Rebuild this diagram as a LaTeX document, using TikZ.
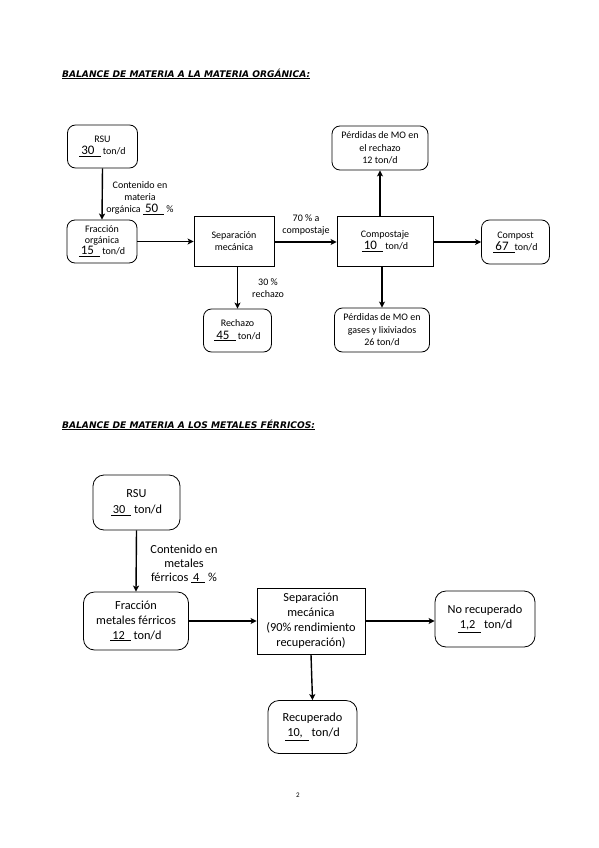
\documentclass[tikz,border=0pt]{standalone}
\usepackage{fontspec}
\setmainfont{Carlito}
\newfontfamily\headfont{DejaVu Sans}
\usetikzlibrary{arrows.meta,calc}
\newcommand{\unum}[1]{\underline{\hspace{2pt}#1\hspace{6pt}}}
\newcommand{\bnum}[1]{{\fontsize{13}{12}\selectfont\unum{#1}}}
\begin{document}
\begin{tikzpicture}[x=1pt,y=-1pt,
  tfont/.style={font=\fontsize{10}{12.3}\selectfont},
  bfont/.style={font=\fontsize{12.3}{15}\selectfont},
  rbox/.style={draw,line width=0.8pt,rounded corners=8pt,align=center,inner sep=0pt,tfont},
  sbox/.style={draw,line width=0.8pt,align=center,inner sep=0pt,tfont},
  rboxb/.style={draw,line width=0.8pt,rounded corners=11pt,align=center,inner sep=0pt,bfont},
  sboxb/.style={draw,line width=0.8pt,align=center,inner sep=0pt,bfont},
  flow/.style={line width=1.4pt,-{Stealth[length=6pt,width=6pt,inset=1.5pt]}},
  lab/.style={align=center,inner sep=0pt,tfont},
  labb/.style={align=center,inner sep=0pt,font=\fontsize{12.3}{14}\selectfont},
  head/.style={anchor=west,inner sep=0pt,font=\headfont\bfseries\itshape\fontsize{9.1}{10}\selectfont}
]
\fill[white] (0,0) rectangle (599,848);
\useasboundingbox (0,0) rectangle (599,848);

% headings
\node[head] (h1) at (62,74) {\underline{BALANCE DE MATERIA A LA MATERIA ORGÁNICA:}};
\node[head] (h2) at (62,425) {\underline{BALANCE DE MATERIA A LOS METALES FÉRRICOS:}};

% top diagram
\node[rbox,minimum width=70pt,minimum height=43pt] (rsu1) at (102.5,146.5)
  {RSU\\\bnum{30} ton/d};
\node[rbox,minimum width=70pt,minimum height=43pt,font=\fontsize{10}{11}\selectfont] (fr1) at (102,241.5)
  {Fracción\\orgánica\\\bnum{15} ton/d};
\node[sbox,minimum width=80pt,minimum height=50pt] (sep1) at (234,241)
  {Separación\\mecánica};
\node[sbox,minimum width=96pt,minimum height=50pt] (comp1) at (385,241)
  {Compostaje\\\bnum{10} ton/d};
\node[rbox,minimum width=96pt,minimum height=44pt] (per1) at (380,148)
  {Pérdidas de MO en\\el rechazo\\12 ton/d};
\node[rbox,minimum width=68pt,minimum height=44pt] (cst1) at (515.5,242)
  {Compost\\\bnum{67}ton/d};
\node[rbox,minimum width=95pt,minimum height=44pt] (per2) at (382,330)
  {Pérdidas de MO en\\gases y lixiviados\\26 ton/d};
\node[rbox,minimum width=68pt,minimum height=43pt] (rech1) at (237.5,330.5)
  {Rechazo\\\bnum{45} ton/d};

\node[lab] (l1) at (140,198) {Contenido en\\materia\\orgánica \bnum{50} \%};
\node[lab] (l2) at (306,225) {70 \% a\\compostaje};
\node[lab] (l3) at (268,288) {30 \%\\rechazo};

\coordinate (a2) at ([yshift=-1pt]comp1.west);

\draw[flow] (rsu1.south) -- (fr1.north);
\draw[flow] (fr1.east) -- (fr1.east -| sep1.west);
\draw[flow] (a2 -| sep1.east) -- (a2);
\draw[flow] (per1 |- comp1.north) -- (per1.south);
\draw[flow] (cst1.west -| comp1.east) -- (cst1.west);
\draw[flow] (per2 |- comp1.south) -- (per2.north);
\draw[flow] (rech1 |- sep1.south) -- (rech1.north);

% bottom diagram
\node[rboxb,minimum width=87pt,minimum height=55pt] (rsu2) at (136.5,502.5)
  {RSU\\[1pt]\unum{30} ton/d};
\node[rboxb,minimum width=105pt,minimum height=58pt] (fr2) at (136,621)
  {Fracción\\metales férricos\\\unum{12} ton/d};
\node[sboxb,minimum width=108pt,minimum height=66pt] (sep2) at (311,621)
  {Separación\\mecánica\\(90\% rendimiento\\recuperación)};
\node[rboxb,minimum width=100pt,minimum height=56pt] (nr2) at (485,619)
  {No recuperado\\\unum{1,2} ton/d};
\node[rboxb,minimum width=89pt,minimum height=53pt] (rec2) at (312.5,727)
  {Recuperado\\\unum{10,} ton/d};

\node[labb] (l4) at (184,564) {Contenido en\\metales\\férricos \unum{4} \%};

\draw[flow] (rsu2.south) -- (fr2.north);
\draw[flow] (fr2.east) -- (sep2.west);
\draw[flow] (sep2.east) -- (nr2.west |- sep2.east);
\draw[flow] (sep2.south) -- (rec2.north);

\node[inner sep=0pt,font=\fontsize{7}{8}\selectfont] (pg) at (298,795) {2};
\end{tikzpicture}
\end{document}
